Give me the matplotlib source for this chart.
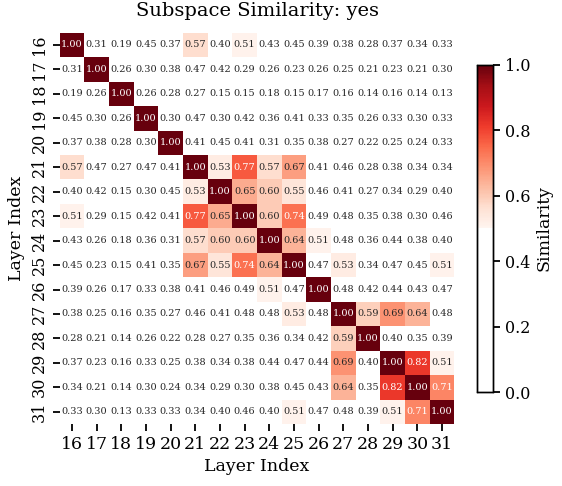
import numpy as np
import matplotlib
matplotlib.use("Agg")
import matplotlib.pyplot as plt
from matplotlib.colors import ListedColormap
import seaborn as sns

layers = list(range(16, 32))

# similarity matrix, rows/cols = layers 16..31
sim = [
    [1.00, 0.31, 0.19, 0.45, 0.37, 0.57, 0.40, 0.51, 0.43, 0.45, 0.39, 0.38, 0.28, 0.37, 0.34, 0.33],
    [0.31, 1.00, 0.26, 0.30, 0.38, 0.47, 0.42, 0.29, 0.26, 0.23, 0.26, 0.25, 0.21, 0.23, 0.21, 0.30],
    [0.19, 0.26, 1.00, 0.26, 0.28, 0.27, 0.15, 0.15, 0.18, 0.15, 0.17, 0.16, 0.14, 0.16, 0.14, 0.13],
    [0.45, 0.30, 0.26, 1.00, 0.30, 0.47, 0.30, 0.42, 0.36, 0.41, 0.33, 0.35, 0.26, 0.33, 0.30, 0.33],
    [0.37, 0.38, 0.28, 0.30, 1.00, 0.41, 0.45, 0.41, 0.31, 0.35, 0.38, 0.27, 0.22, 0.25, 0.24, 0.33],
    [0.57, 0.47, 0.27, 0.47, 0.41, 1.00, 0.53, 0.77, 0.57, 0.67, 0.41, 0.46, 0.28, 0.38, 0.34, 0.34],
    [0.40, 0.42, 0.15, 0.30, 0.45, 0.53, 1.00, 0.65, 0.60, 0.55, 0.46, 0.41, 0.27, 0.34, 0.29, 0.40],
    [0.51, 0.29, 0.15, 0.42, 0.41, 0.77, 0.65, 1.00, 0.60, 0.74, 0.49, 0.48, 0.35, 0.38, 0.30, 0.46],
    [0.43, 0.26, 0.18, 0.36, 0.31, 0.57, 0.60, 0.60, 1.00, 0.64, 0.51, 0.48, 0.36, 0.44, 0.38, 0.40],
    [0.45, 0.23, 0.15, 0.41, 0.35, 0.67, 0.55, 0.74, 0.64, 1.00, 0.47, 0.53, 0.34, 0.47, 0.45, 0.51],
    [0.39, 0.26, 0.17, 0.33, 0.38, 0.41, 0.46, 0.49, 0.51, 0.47, 1.00, 0.48, 0.42, 0.44, 0.43, 0.47],
    [0.38, 0.25, 0.16, 0.35, 0.27, 0.46, 0.41, 0.48, 0.48, 0.53, 0.48, 1.00, 0.59, 0.69, 0.64, 0.48],
    [0.28, 0.21, 0.14, 0.26, 0.22, 0.28, 0.27, 0.35, 0.36, 0.34, 0.42, 0.59, 1.00, 0.40, 0.35, 0.39],
    [0.37, 0.23, 0.16, 0.33, 0.25, 0.38, 0.34, 0.38, 0.44, 0.47, 0.44, 0.69, 0.40, 1.00, 0.82, 0.51],
    [0.34, 0.21, 0.14, 0.30, 0.24, 0.34, 0.29, 0.30, 0.38, 0.45, 0.43, 0.64, 0.35, 0.82, 1.00, 0.71],
    [0.33, 0.30, 0.13, 0.33, 0.33, 0.34, 0.40, 0.46, 0.40, 0.51, 0.47, 0.48, 0.39, 0.51, 0.71, 1.00],
]
sim = np.array(sim)

# white below 0.5, Reds from 0.5 to 1
reds = plt.cm.Reds(np.linspace(0, 1, 128))
white = np.ones((128, 4))
cmap = ListedColormap(np.vstack([white, reds]))

plt.rcParams['font.family'] = 'DejaVu Serif'

fig = plt.figure(figsize=(5.62, 4.86), dpi=100)
ax = fig.add_axes([0.1062, 0.1276, 0.7022, 0.805])
cax = fig.add_axes([0.8488, 0.1934, 0.0285, 0.673])

sns.heatmap(sim, ax=ax, cbar_ax=cax, cmap=cmap, vmin=0, vmax=1,
            annot=True, fmt=".2f", annot_kws={"fontsize": 7},
            xticklabels=layers, yticklabels=layers,
            cbar_kws={"label": "Similarity"})

ax.set_title("Subspace Similarity: yes", fontsize=14, pad=12)
ax.set_xlabel("Layer Index", fontsize=12.5)
ax.set_ylabel("Layer Index", fontsize=12.5)
ax.tick_params(axis='x', labelsize=12.5, length=5, width=1.3, rotation=0)
ax.tick_params(axis='y', labelsize=11.5, length=5, width=1.3, rotation=90)

cax.tick_params(labelsize=11.5, length=5, width=1.3)
cax.yaxis.label.set_size(12.5)
for s in cax.spines.values():
    s.set_visible(True)
    s.set_linewidth(1)

fig.savefig("out.png", dpi=100)
